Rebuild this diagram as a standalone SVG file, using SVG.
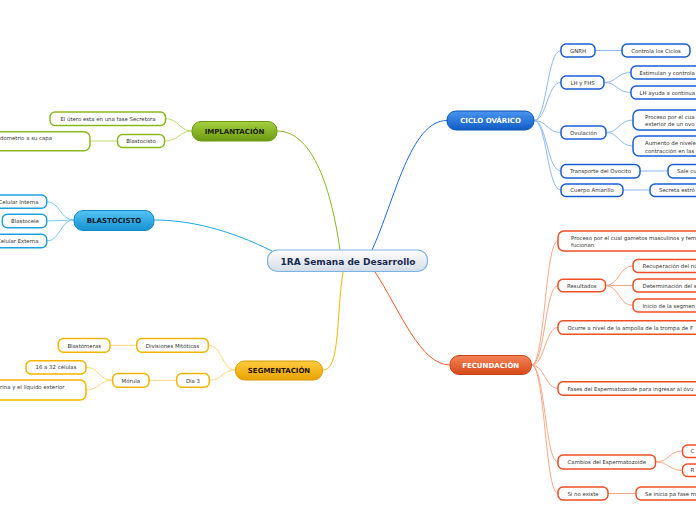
<svg xmlns="http://www.w3.org/2000/svg" width="696" height="520" viewBox="0 0 696 520">
<defs>
<linearGradient id="gC" x1="0" y1="0" x2="0" y2="1"><stop offset="0" stop-color="#ffffff"/><stop offset="1" stop-color="#d3dce6"/></linearGradient>
<linearGradient id="gBlue" x1="0" y1="0" x2="0" y2="1"><stop offset="0" stop-color="#4a95ee"/><stop offset="1" stop-color="#0f5cc6"/></linearGradient>
<linearGradient id="gGreen" x1="0" y1="0" x2="0" y2="1"><stop offset="0" stop-color="#a6d040"/><stop offset="1" stop-color="#6c9a10"/></linearGradient>
<linearGradient id="gCyan" x1="0" y1="0" x2="0" y2="1"><stop offset="0" stop-color="#55c4f2"/><stop offset="1" stop-color="#1590d2"/></linearGradient>
<linearGradient id="gYel" x1="0" y1="0" x2="0" y2="1"><stop offset="0" stop-color="#ffcc40"/><stop offset="1" stop-color="#e8a200"/></linearGradient>
<linearGradient id="gOr" x1="0" y1="0" x2="0" y2="1"><stop offset="0" stop-color="#f4855a"/><stop offset="1" stop-color="#d64816"/></linearGradient>
</defs>
<style>
.t{font-family:"DejaVu Sans",Verdana,sans-serif;font-size:5.4px;fill:#333}
.m{text-anchor:middle}
.e{text-anchor:end}
.h{font-family:"DejaVu Sans",Verdana,sans-serif;font-size:7px;font-weight:bold;text-anchor:middle}
.box{fill:#fff;stroke-width:1.5}
.bl{stroke:#1a5cd6}.gr{stroke:#8ab81e}.cy{stroke:#1ea0e0}.ye{stroke:#f5b400}.or{stroke:#f04e23}
.l{fill:none;stroke-width:1}
.lbl{stroke:#8fb8f2}.lgr{stroke:#bedb78}.lcy{stroke:#7ccaf2}.lye{stroke:#ffd77a}.lor{stroke:#f8a888}
</style>
<g id="connectors">
<path class="l" stroke="#1a6ae0" stroke-width="1.5" d="M372 250 C395 200 410 120.5 447 120.5"/>
<path class="l" stroke="#8ab81e" stroke-width="1.5" d="M340 250 C330 180 310 131 277 131"/>
<path class="l" stroke="#1ea8e8" stroke-width="1.5" d="M272 251 C230 230 190 220 154 220"/>
<path class="l" stroke="#f5b800" stroke-width="1.5" d="M343 272 C336 320 340 370 323 370"/>
<path class="l" stroke="#f05a28" stroke-width="1.5" d="M375 272 C400 310 420 365 450 365"/>
<g>
<path class="l lbl" d="M534 120.5 C547 120.5 547 50.5 561 50.5"/>
<path class="l lbl" d="M534 120.5 C547 120.5 547 82.5 561 82.5"/>
<path class="l lbl" d="M534 120.5 C547 120.5 547 132.5 561 132.5"/>
<path class="l lbl" d="M534 120.5 C547 120.5 547 171 561 171"/>
<path class="l lbl" d="M534 120.5 C547 120.5 547 190 561 190"/>
<path class="l lbl" d="M595 50.5 L622 50.5"/>
<path class="l lbl" d="M604 82.5 C617 82.5 617 72.5 631 72.5"/>
<path class="l lbl" d="M604 82.5 C617 82.5 617 92.5 631 92.5"/>
<path class="l lbl" d="M606 132.5 C619 132.5 619 120 633 120"/>
<path class="l lbl" d="M606 132.5 C619 132.5 619 146 633 146"/>
<path class="l lbl" d="M640 171 L668 171"/>
<path class="l lbl" d="M623 190 L650 190"/>
</g>
<g>
<path class="l lor" d="M531.5 365 C545 365 545 241 558 241"/>
<path class="l lor" d="M531.5 365 C545 365 545 285.5 558 285.5"/>
<path class="l lor" d="M531.5 365 C545 365 545 327.5 558 327.5"/>
<path class="l lor" d="M531.5 365 C545 365 545 388.5 558 388.5"/>
<path class="l lor" d="M531.5 365 C545 365 545 462 558 462"/>
<path class="l lor" d="M531.5 365 C545 365 545 493.5 558 493.5"/>
<path class="l lor" d="M605.5 285.5 C619 285.5 619 266 633 266"/>
<path class="l lor" d="M605.5 285.5 L633 285.5"/>
<path class="l lor" d="M605.5 285.5 C619 285.5 619 305.5 633 305.5"/>
<path class="l lor" d="M655.5 462 C669 462 669 451 682.5 451"/>
<path class="l lor" d="M655.5 462 C669 462 669 470.5 682.5 470.5"/>
<path class="l lor" d="M608 493.5 L636 493.5"/>
</g>
<g>
<path class="l lgr" d="M192 131 C179 131 179 118.7 165.5 118.7"/>
<path class="l lgr" d="M192 131 C179 131 179 141 164.5 141"/>
<path class="l lgr" d="M117.5 141 L90 141"/>
</g>
<g>
<path class="l lcy" d="M74 220 C60 220 60 201.7 47 201.7"/>
<path class="l lcy" d="M74 220 L47 221"/>
<path class="l lcy" d="M74 220 C60 220 60 241 47 241"/>
</g>
<g>
<path class="l lye" d="M235.5 370 C222 370 222 345.3 208.5 345.3"/>
<path class="l lye" d="M235.5 370 C222 370 222 380.3 209.5 380.3"/>
<path class="l lye" d="M136.5 345.3 L110 345.3"/>
<path class="l lye" d="M176.5 380.3 L149 380.3"/>
<path class="l lye" d="M112.5 380.3 C99 380.3 99 367.3 86 367.3"/>
<path class="l lye" d="M112.5 380.3 C99 380.3 99 390 86 390"/>
</g>
</g>

<g id="center">
<rect x="267.5" y="250" width="160" height="21.5" rx="10" fill="url(#gC)" stroke="#7ab4e2" stroke-width="1.2"/>
<text x="348" y="265" style="font-family:'DejaVu Sans',Verdana,sans-serif;font-size:9px;font-weight:bold;fill:#1c2a4e" text-anchor="middle">1RA Semana de Desarrollo</text>
</g>

<g id="ciclo">
<rect x="447" y="111" width="87" height="19" rx="9" fill="url(#gBlue)" stroke="#0d55b8"/>
<text class="h" x="490.5" y="123.3" fill="#fff">CICLO OVÁRICO</text>
</g>
<g id="gnrh"><rect class="box bl" x="561" y="44" width="34" height="13" rx="5"/><text class="t m" x="578" y="52.5">GNRH</text></g>
<g id="controla"><rect class="box bl" x="622" y="44" width="68" height="13" rx="5"/><text class="t m" x="656" y="52.5">Controla los Ciclos</text></g>
<g id="lhfhs"><rect class="box bl" x="561" y="76" width="43" height="13" rx="5"/><text class="t m" x="582.5" y="84.5">LH y FHS</text></g>
<g id="estimulan"><rect class="box bl" x="631" y="66" width="80" height="13" rx="5"/><text class="t" x="639.5" y="74.5">Estimulan y controla</text></g>
<g id="lhayuda"><rect class="box bl" x="631" y="86" width="80" height="13" rx="5"/><text class="t" x="639.5" y="94.5">LH ayuda a continua</text></g>
<g id="ovulacion"><rect class="box bl" x="561" y="126" width="45" height="13" rx="5"/><text class="t m" x="583.5" y="134.5">Ovulación</text></g>
<g id="proceso-ov"><rect class="box bl" x="633" y="110" width="80" height="20" rx="6"/><text class="t" x="645" y="118.7">Proceso por el cua</text><text class="t" x="645" y="126.3">exterior de un ovo</text></g>
<g id="aumento"><rect class="box bl" x="633" y="136" width="80" height="20" rx="6"/><text class="t" x="645" y="145.3">Aumento de nivele</text><text class="t" x="645" y="152.7">contracción en las</text></g>
<g id="transporte"><rect class="box bl" x="561" y="164.5" width="79" height="13.5" rx="5"/><text class="t m" x="600.5" y="173.2">Transporte del Ovocito</text></g>
<g id="sale"><rect class="box bl" x="668" y="164.5" width="50" height="13.5" rx="5"/><text class="t" x="677" y="173.2">Sale cu</text></g>
<g id="cuerpo"><rect class="box bl" x="561" y="184" width="62" height="12.5" rx="5"/><text class="t m" x="592" y="192.3">Cuerpo Amarillo</text></g>
<g id="secreta"><rect class="box bl" x="650" y="184" width="70" height="12.5" rx="5"/><text class="t" x="659" y="192.3">Secreta estró</text></g>

<g id="fecundacion">
<rect x="450" y="355.5" width="81.5" height="19" rx="9" fill="url(#gOr)" stroke="#c84414"/>
<text class="h" x="490.7" y="367.8" fill="#fff">FECUNDACIÓN</text>
</g>
<g id="proceso-fec"><rect class="box or" x="558" y="231" width="160" height="20" rx="6"/><text class="t" x="571" y="240.2">Proceso por el cual gametos masculinos y fem</text><text class="t" x="571" y="247">fucionan</text></g>
<g id="resultados"><rect class="box or" x="558" y="279.3" width="47.5" height="12.5" rx="5"/><text class="t m" x="581.8" y="287.5">Resultados</text></g>
<g id="recuperacion"><rect class="box or" x="633" y="259.5" width="80" height="13" rx="5"/><text class="t" x="642.5" y="268">Recuperación del nú</text></g>
<g id="determinacion"><rect class="box or" x="633" y="279" width="80" height="13" rx="5"/><text class="t" x="642.5" y="287.5">Determinación del s</text></g>
<g id="inicio"><rect class="box or" x="633" y="299" width="80" height="13" rx="5"/><text class="t" x="642.5" y="307.5">Inicio de la segmen</text></g>
<g id="ocurre"><rect class="box or" x="558" y="320.7" width="160" height="13.5" rx="5"/><text class="t" x="567.5" y="329.5">Ocurre a nivel de la ampolla de la trompa de F</text></g>
<g id="fases"><rect class="box or" x="558" y="381.7" width="160" height="13.5" rx="5"/><text class="t" x="567.5" y="390.5">Fases del Espermatozoide para ingresar al óvu</text></g>
<g id="cambios"><rect class="box or" x="558" y="455" width="97.5" height="14" rx="5"/><text class="t m" x="606.8" y="464">Cambios del Espermatozoide</text></g>
<g id="c-box"><rect class="box or" x="682.5" y="445" width="40" height="12.5" rx="5"/><text class="t" x="690.5" y="453.3">C</text></g>
<g id="r-box"><rect class="box or" x="682.5" y="464" width="40" height="12.5" rx="5"/><text class="t" x="690.5" y="472.3">R</text></g>
<g id="sinoexiste"><rect class="box or" x="558" y="487" width="50" height="13" rx="5"/><text class="t m" x="583" y="495.5">Si no existe</text></g>
<g id="seinicia"><rect class="box or" x="636" y="487" width="80" height="13" rx="5"/><text class="t" x="645" y="495.5">Se inicia pa fase m</text></g>

<g id="implantacion">
<rect x="192" y="121.5" width="85" height="19.5" rx="9" fill="url(#gGreen)" stroke="#6a9612"/>
<text class="h" x="234.5" y="134" fill="#1a2206">IMPLANTACIÓN</text>
</g>
<g id="utero"><rect class="box gr" x="50" y="112" width="115.5" height="13.5" rx="5"/><text class="t m" x="108" y="120.8">El útero esta en una fase Secretora</text></g>
<g id="blastocisto-imp"><rect class="box gr" x="117.5" y="134.5" width="47" height="13" rx="5"/><text class="t m" x="141" y="143">Blastocisto</text></g>
<g id="endometrio"><rect class="box gr" x="-20" y="131.7" width="110" height="19" rx="6"/><text class="t" x="0" y="140">dometrio a su capa</text></g>

<g id="blastocisto">
<rect x="74" y="210.5" width="80" height="20" rx="9" fill="url(#gCyan)" stroke="#1488c8"/>
<text class="h" x="114" y="223" fill="#0a1a2a">BLASTOCISTO</text>
</g>
<g id="celular-interna"><rect class="box cy" x="-20" y="195" width="66.7" height="13.3" rx="5"/><text class="t e" x="38.5" y="203.7">Celular Interna</text></g>
<g id="blastocele"><rect class="box cy" x="2.3" y="214.3" width="44.4" height="13.4" rx="5"/><text class="t m" x="25" y="223">Blastocele</text></g>
<g id="celular-externa"><rect class="box cy" x="-20" y="234.3" width="66.7" height="13.4" rx="5"/><text class="t e" x="38.5" y="243">Celular Externa</text></g>

<g id="segmentacion">
<rect x="235.5" y="361" width="87" height="19" rx="9" fill="url(#gYel)" stroke="#d89a00"/>
<text class="h" x="279" y="373.3" fill="#1e1400">SEGMENTACIÓN</text>
</g>
<g id="divisiones"><rect class="box ye" x="136.7" y="338.5" width="71.6" height="13.8" rx="5"/><text class="t m" x="172.5" y="347.5">Divisiones Mitóticas</text></g>
<g id="blastomeras"><rect class="box ye" x="58.3" y="338.5" width="51.7" height="13.8" rx="5"/><text class="t m" x="84.2" y="347.5">Blastómeras</text></g>
<g id="dia3"><rect class="box ye" x="176.7" y="373.5" width="32.6" height="13.8" rx="5"/><text class="t m" x="193" y="382.5">Día 3</text></g>
<g id="morula"><rect class="box ye" x="112.7" y="373.5" width="36.3" height="13.8" rx="5"/><text class="t m" x="130.8" y="382.5">Mórula</text></g>
<g id="celulas"><rect class="box ye" x="26" y="360.7" width="60" height="13.3" rx="5"/><text class="t m" x="56" y="369.3">16 a 32 células</text></g>
<g id="liquido"><rect class="box ye" x="-20" y="380" width="106" height="20" rx="6"/><text class="t" x="0" y="389">rina y el líquido exterior</text></g>
</svg>
